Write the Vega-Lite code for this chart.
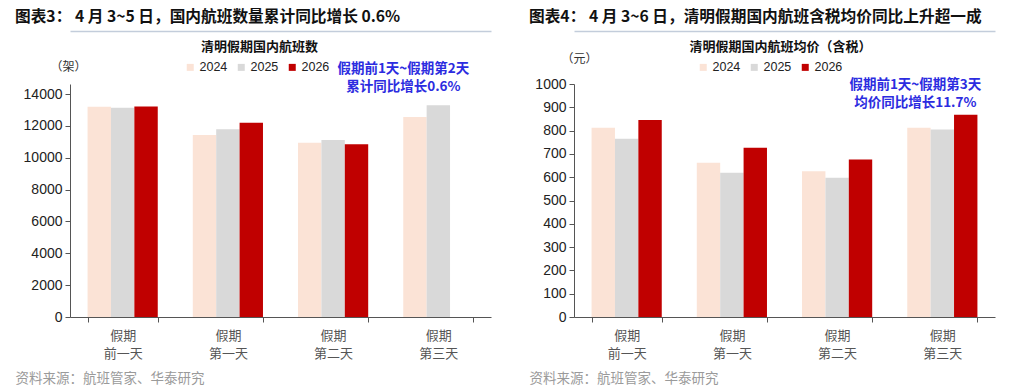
{
  "$schema": "https://vega.github.io/schema/vega-lite/v6.json",
  "background": "white",
  "padding": {"left": 15, "top": 9, "right": 5, "bottom": 5},
  "spacing": 38,
  "config": {
    "view": {"stroke": null},
    "font": "Noto Sans CJK SC",
    "title": {"anchor": "start", "frame": "bounds", "font": "Noto Sans CJK SC", "fontSize": 15.7, "fontWeight": "bold", "color": "#111111", "offset": 5},
    "axis": {"grid": false, "domainColor": "#555555", "tickColor": "#555555", "tickSize": 5, "labelOverlap": false}
  },
  "datasets": {
    "flights": [
      {"day": "假期前一天", "year": "2024", "value": 13200},
      {"day": "假期前一天", "year": "2025", "value": 13130},
      {"day": "假期前一天", "year": "2026", "value": 13220},
      {"day": "假期第一天", "year": "2024", "value": 11420},
      {"day": "假期第一天", "year": "2025", "value": 11780},
      {"day": "假期第一天", "year": "2026", "value": 12200},
      {"day": "假期第二天", "year": "2024", "value": 10940},
      {"day": "假期第二天", "year": "2025", "value": 11110},
      {"day": "假期第二天", "year": "2026", "value": 10840},
      {"day": "假期第三天", "year": "2024", "value": 12560},
      {"day": "假期第三天", "year": "2025", "value": 13290}
    ],
    "fares": [
      {"day": "假期前一天", "year": "2024", "value": 812},
      {"day": "假期前一天", "year": "2025", "value": 765},
      {"day": "假期前一天", "year": "2026", "value": 846},
      {"day": "假期第一天", "year": "2024", "value": 662},
      {"day": "假期第一天", "year": "2025", "value": 619},
      {"day": "假期第一天", "year": "2026", "value": 726},
      {"day": "假期第二天", "year": "2024", "value": 626},
      {"day": "假期第二天", "year": "2025", "value": 598},
      {"day": "假期第二天", "year": "2026", "value": 676},
      {"day": "假期第三天", "year": "2024", "value": 812},
      {"day": "假期第三天", "year": "2025", "value": 805},
      {"day": "假期第三天", "year": "2026", "value": 868}
    ],
    "note1": [{"day": "假期第三天", "note": ["假期前1天~假期第2天", "累计同比增长0.6%"]}],
    "note2": [{"day": "假期第三天", "note": ["假期前1天~假期第3天", "均价同比增长11.7%"]}]
  },
  "hconcat": [
    {
      "width": 421,
      "height": 233,
      "title": {"text": "图表3： 4 月 3~5 日，国内航班数量累计同比增长 0.6%"},
      "layer": [
        {
          "data": {"name": "flights"},
          "mark": {"type": "bar"},
          "encoding": {
            "x": {
              "field": "day", "type": "nominal",
              "sort": ["假期前一天", "假期第一天", "假期第二天", "假期第三天"],
              "scale": {"paddingInner": 0.333, "paddingOuter": 0.167},
              "axis": {
                "orient": "bottom", "labelAngle": 0, "tickBand": "extent",
                "labelExpr": "[slice(datum.label,0,2), slice(datum.label,2)]",
                "labelFont": "Noto Sans CJK SC", "labelFontSize": 13, "labelColor": "#555555", "labelLineHeight": 18, "labelPadding": 7,
                "title": "资料来源：航班管家、华泰研究",
                "titleFont": "Noto Sans CJK SC", "titleFontSize": 13.5, "titleFontWeight": "normal", "titleColor": "#9a9a9a",
                "titleAnchor": "start", "titleAlign": "left", "titleBaseline": "middle", "titleX": -55, "titleY": 61
              }
            },
            "xOffset": {"field": "year", "type": "nominal", "sort": ["2024", "2025", "2026"]},
            "y": {
              "field": "value", "type": "quantitative",
              "scale": {"domain": [0, 14628], "nice": false},
              "axis": {
                "values": [0, 2000, 4000, 6000, 8000, 10000, 12000, 14000], "tickCount": 20, "format": "d", "labelFont": "Liberation Sans", "labelFontSize": 14, "labelColor": "#222222", "labelPadding": 3,
                "title": "（架）", "titleAngle": 0, "titleX": -2, "titleY": -18, "titleAlign": "center", "titleBaseline": "middle",
                "titleFont": "Noto Sans CJK SC", "titleFontSize": 12, "titleFontWeight": "normal", "titleColor": "#333333"
              }
            },
            "color": {
              "field": "year", "type": "nominal",
              "scale": {"domain": ["2024", "2025", "2026"], "range": ["#fbe3d6", "#d9d9d9", "#c00000"]},
              "legend": {
                "orient": "none", "legendX": 114, "legendY": -23, "direction": "horizontal", "title": null,
                "symbolType": "square", "symbolSize": 49, "symbolStrokeWidth": 0, "labelFont": "Liberation Sans", "labelFontSize": 12.5,
                "labelColor": "#222222", "labelOffset": 3, "columnPadding": 7, "padding": 0
              }
            }
          }
        },
        {
          "data": {"name": "note1"},
          "mark": {"type": "text", "font": "Noto Sans CJK SC", "fontSize": 13.5, "fontWeight": "bold", "color": "#2c2ce0", "align": "center", "baseline": "middle", "lineHeight": 18, "dx": -35},
          "encoding": {
            "x": {
              "field": "day", "type": "nominal",
              "sort": ["假期前一天", "假期第一天", "假期第二天", "假期第三天"],
              "axis": {
                "orient": "top", "offset": 53, "labels": false, "ticks": false, "domainColor": "#c3cddb", "domainWidth": 1.5,
                "title": "清明假期国内航班数", "titleFont": "Noto Sans CJK SC", "titleFontSize": 13, "titleFontWeight": "bold", "titleColor": "#111111",
                "titleX": 189, "titleY": 15, "titleAlign": "center", "titleBaseline": "middle"
              }
            },
            "y": {"datum": 15570, "type": "quantitative"},
            "text": {"field": "note", "type": "nominal"}
          }
        }
      ]
    },
    {
      "width": 421,
      "height": 233,
      "title": {"text": "图表4： 4 月 3~6 日，清明假期国内航班含税均价同比上升超一成"},
      "layer": [
        {
          "data": {"name": "fares"},
          "mark": {"type": "bar"},
          "encoding": {
            "x": {
              "field": "day", "type": "nominal",
              "sort": ["假期前一天", "假期第一天", "假期第二天", "假期第三天"],
              "scale": {"paddingInner": 0.333, "paddingOuter": 0.167},
              "axis": {
                "orient": "bottom", "labelAngle": 0, "tickBand": "extent",
                "labelExpr": "[slice(datum.label,0,2), slice(datum.label,2)]",
                "labelFont": "Noto Sans CJK SC", "labelFontSize": 13, "labelColor": "#555555", "labelLineHeight": 18, "labelPadding": 7,
                "title": "资料来源：航班管家、华泰研究",
                "titleFont": "Noto Sans CJK SC", "titleFontSize": 13.5, "titleFontWeight": "normal", "titleColor": "#9a9a9a",
                "titleAnchor": "start", "titleAlign": "left", "titleBaseline": "middle", "titleX": -45, "titleY": 61
              }
            },
            "xOffset": {"field": "year", "type": "nominal", "sort": ["2024", "2025", "2026"]},
            "y": {
              "field": "value", "type": "quantitative",
              "scale": {"domain": [0, 1000], "nice": false},
              "axis": {
                "tickCount": 10, "format": "d", "labelFont": "Liberation Sans", "labelFontSize": 14, "labelColor": "#222222", "labelPadding": 3,
                "title": "（元）", "titleAngle": 0, "titleX": 5, "titleY": -26, "titleAlign": "center", "titleBaseline": "middle",
                "titleFont": "Noto Sans CJK SC", "titleFontSize": 12, "titleFontWeight": "normal", "titleColor": "#333333"
              }
            },
            "color": {
              "field": "year", "type": "nominal",
              "scale": {"domain": ["2024", "2025", "2026"], "range": ["#fbe3d6", "#d9d9d9", "#c00000"]},
              "legend": {
                "orient": "none", "legendX": 123, "legendY": -23, "direction": "horizontal", "title": null,
                "symbolType": "square", "symbolSize": 49, "symbolStrokeWidth": 0, "labelFont": "Liberation Sans", "labelFontSize": 12.5,
                "labelColor": "#222222", "labelOffset": 3, "columnPadding": 7, "padding": 0
              }
            }
          }
        },
        {
          "data": {"name": "note2"},
          "mark": {"type": "text", "font": "Noto Sans CJK SC", "fontSize": 13.5, "fontWeight": "bold", "color": "#2c2ce0", "align": "center", "baseline": "middle", "lineHeight": 18, "dx": -27},
          "encoding": {
            "x": {
              "field": "day", "type": "nominal",
              "sort": ["假期前一天", "假期第一天", "假期第二天", "假期第三天"],
              "axis": {
                "orient": "top", "offset": 53, "labels": false, "ticks": false, "domainColor": "#c3cddb", "domainWidth": 1.5,
                "title": "清明假期国内航班均价（含税）", "titleFont": "Noto Sans CJK SC", "titleFontSize": 13, "titleFontWeight": "bold", "titleColor": "#111111",
                "titleX": 206, "titleY": 15, "titleAlign": "center", "titleBaseline": "middle"
              }
            },
            "y": {"datum": 995, "type": "quantitative"},
            "text": {"field": "note", "type": "nominal"}
          }
        }
      ]
    }
  ],
  "resolve": {"scale": {"color": "independent"}}
}
